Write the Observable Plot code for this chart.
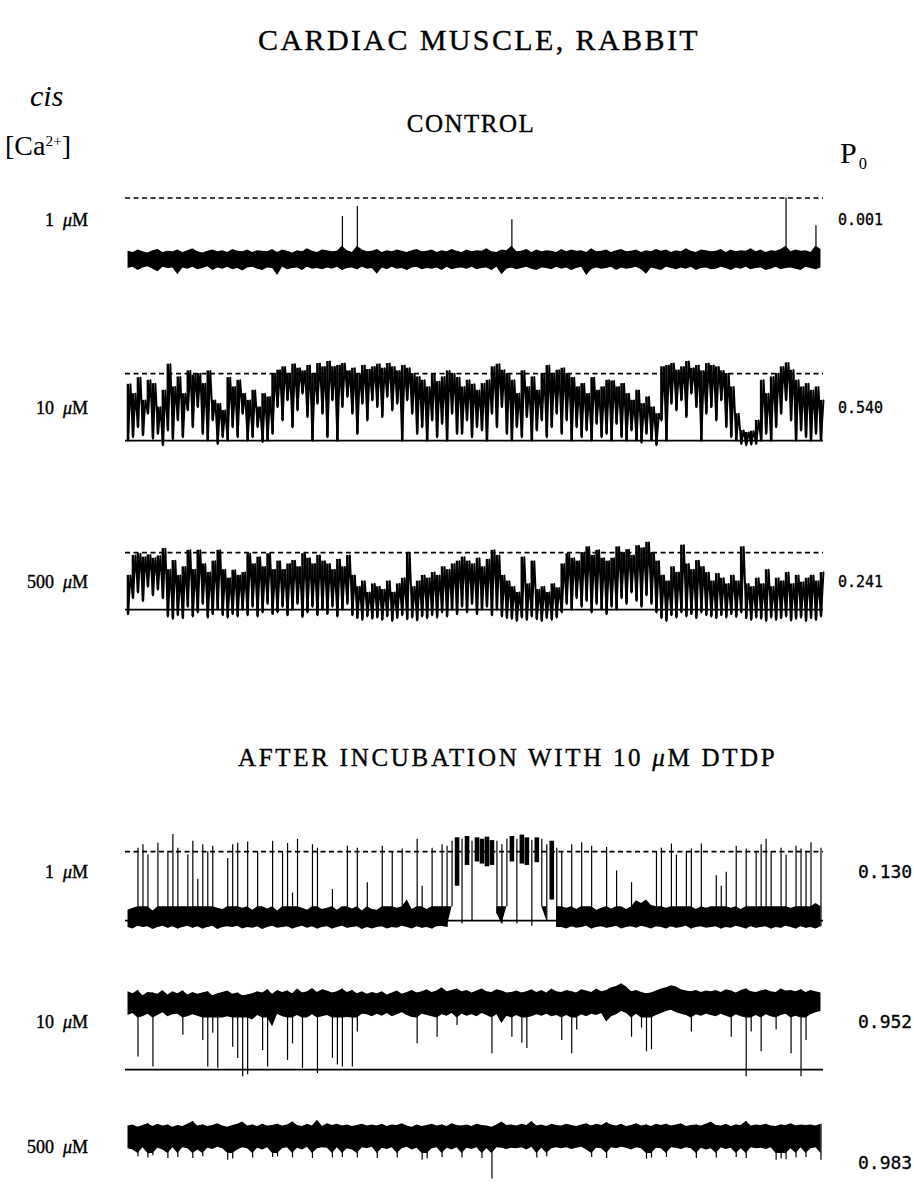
<!DOCTYPE html>
<html><head><meta charset="utf-8">
<script src="https://cdn.jsdelivr.net/npm/d3@7"></script>
<script src="https://cdn.jsdelivr.net/npm/@observablehq/plot@0.6"></script>
<style>
html,body{margin:0;padding:0;background:#fff;}
#page{position:relative;width:914px;height:1192px;overflow:hidden;background:#fff;color:#000;}
.t{position:absolute;white-space:nowrap;line-height:1;}
.hd{font-family:"Liberation Serif",serif;-webkit-text-stroke:0.35px #000;}
.ser{font-family:"Liberation Serif",serif;}
.lab{font-family:"Liberation Serif",serif;-webkit-text-stroke:0.4px #000;}
.num{font-family:"DejaVu Sans Mono",monospace;-webkit-text-stroke:0.3px #000;}
.plot{position:absolute;left:0;}
</style></head><body><div id="page"></div>
<script>
// ---- Data: current envelope per time bin (0 = closed level, 100 = open level) ----
// CONTROL, 1 uM
const t1Lo = [-14,-12,-17,-13,-11,-15,-19,-12,-14,-13,-24,-13,-15,-12,-16,-14,-11,-17,-13,-15,-12,-16,-14,-18,-13,-12,-15,-17,-13,-14,-25,-12,-16,-14,-13,-17,-12,-15,-14,-16,-13,-15,-12,-17,-14,-13,-16,-12,-15,-14,-23,-13,-16,-12,-15,-14,-17,-13,-12,-16,-14,-15,-13,-17,-12,-16,-14,-13,-15,-12,-16,-14,-13,-17,-12,-24,-15,-13,-16,-14,-12,-15,-17,-13,-14,-16,-12,-15,-13,-17,-14,-12,-25,-16,-13,-15,-14,-12,-17,-13,-15,-14,-12,-16,-23,-13,-15,-17,-12,-14,-16,-13,-15,-12,-17,-14,-13,-16,-15,-12,-14,-17,-13,-15,-12,-16,-14,-13,-17,-15,-12,-16,-14,-13,-15,-17,-12,-14,-16,-13];
const t1Hi = [14,12,16,13,11,15,17,12,14,13,16,12,15,18,13,11,14,16,13,15,12,17,14,13,16,12,15,14,13,17,12,16,14,11,15,13,18,14,12,16,15,13,14,70,15,12,86,16,13,14,17,12,15,13,16,14,12,15,17,13,14,16,12,15,13,17,14,12,16,13,15,14,18,13,12,16,15,65,13,14,17,12,16,13,15,14,12,17,13,16,14,15,12,18,13,14,16,12,15,17,13,14,16,12,15,13,17,14,16,12,15,13,18,14,12,16,15,13,14,17,12,16,13,15,14,18,13,16,12,15,14,17,100,13,16,14,15,12,55,17];
// CONTROL, 10 uM
const t2Lo = [0,5,20,8,40,3,10,-7,15,2,30,5,45,20,50,10,0,30,-5,5,0,20,5,40,0,5,20,-2,0,10,50,30,60,20,45,70,35,0,55,40,5,60,0,50,65,40,10,55,30,60,50,35,65,45,55,0,60,40,10,20,0,30,5,25,0,40,10,10,30,5,20,15,0,40,20,50,10,0,20,5,35,0,15,30,5,20,40,10,30,0,20,5,15,0,25,5,10,0,25,5,0,15,0,-3,10,0,-7,30,0,55,45,60,35,70,50,0,40,50,30,60,20,5,0,-5,-7,-6,-5,0,10,0,20,40,60,30,0,15,5,0,10,0];
const t2Hi = [84,70,94,60,90,85,50,75,114,80,95,70,104,98,100,85,104,60,55,45,94,80,90,70,60,75,50,70,65,100,105,110,100,114,108,104,112,100,115,110,118,110,112,115,104,108,100,112,106,110,114,108,115,110,104,112,108,100,95,90,80,99,88,95,104,100,94,80,90,84,75,85,90,110,114,105,100,90,70,104,80,95,75,100,112,100,105,108,100,94,80,85,70,94,75,80,90,89,80,85,70,60,75,55,65,50,40,110,112,115,105,110,118,108,112,104,115,112,110,104,100,80,40,15,12,14,30,90,70,95,100,110,116,105,90,80,85,75,80,60];
// CONTROL, 500 uM
const t3Lo = [-8,20,30,15,40,25,35,20,-12,-16,-10,-15,5,-12,-5,10,-14,-8,0,-10,-14,-8,-12,0,-10,5,-12,-5,10,-8,-5,5,-10,0,10,-13,-5,5,-10,0,-8,5,-12,0,10,-10,-15,-18,-12,-16,-14,-18,-12,-20,-15,-10,-17,-14,-19,-12,-15,-10,-14,-5,-12,0,-8,5,-5,10,-8,0,5,-10,0,-12,-15,-16,-20,-14,-18,-12,-17,-20,-15,-18,-14,-5,10,0,20,5,15,-5,10,0,-8,5,0,20,10,30,15,5,25,10,-5,-15,-20,-10,-14,-5,-12,-8,-15,-5,-10,-12,-15,-10,-14,-8,-13,-5,-15,-18,-14,-16,-20,-14,-18,-15,-12,-19,-16,-14,-20,-15,-18,-12];
const t3Hi = [60,95,98,92,96,90,94,107,70,86,60,75,104,70,104,80,65,85,104,70,55,69,60,65,98,80,92,75,98,70,85,70,80,86,75,98,90,80,95,85,80,70,88,75,95,60,40,50,30,45,40,35,50,30,45,55,100,40,50,60,55,65,60,75,70,80,85,92,85,80,90,75,88,104,95,60,50,40,30,92,45,85,35,40,30,45,38,80,98,90,85,100,110,95,104,90,85,90,110,100,105,95,112,108,118,100,85,60,50,75,65,113,80,70,86,75,65,50,63,55,45,60,50,110,45,40,55,45,70,40,55,50,65,45,60,48,55,60,50,65];
// DTDP, 1 uM
const t4Lo = [-10,-12,-8,-10,-9,-13,-10,-8,-11,-9,-12,-10,-8,-11,-9,-12,-10,-8,-13,-10,-9,-10,-8,-12,-10,-11,-9,-13,-10,-8,-11,-10,-9,-12,-10,-8,-11,-9,-12,-10,-9,-12,-10,-8,-11,-10,-9,-13,-10,-12,-10,-9,-12,-10,-11,-8,-10,-12,-9,-11,-10,-12,-9,-8,-10,20,50,-5,80,0,85,82,78,80,10,-5,20,85,-5,82,80,-8,84,20,0,30,-10,-10,-12,-9,-11,-10,-8,-12,-10,-9,-11,-10,-8,-12,-10,-9,-11,-8,-10,-12,-9,-10,-12,-9,-11,-10,-8,-12,-10,-9,-11,-10,-9,-12,-10,-11,-8,-10,-12,-9,-11,-10,-9,-12,-10,-11,-8,-10,-12,-9,-11,-10,-12,-9];
const t4Hi = [15,18,105,110,95,14,112,20,100,125,105,20,95,115,60,110,100,108,18,16,90,110,112,18,114,15,100,20,17,115,14,100,112,40,118,18,15,110,105,16,18,45,15,20,108,17,105,14,55,16,15,108,20,100,18,104,30,16,118,50,16,105,20,110,108,115,120,118,122,115,120,118,121,116,115,110,118,122,118,124,120,116,120,118,110,115,105,100,18,110,16,113,20,108,15,18,106,17,72,20,16,55,29,25,30,22,100,105,18,111,95,20,100,104,16,111,18,20,65,50,70,18,108,16,104,20,100,110,118,100,20,105,95,18,108,104,100,113,25,105];
// DTDP, 10 uM
const t5Lo = [82,85,19,80,84,4,82,86,80,83,84,52,80,83,81,44,4,55,2,78,80,34,17,-11,-8,75,82,29,4,65,84,80,14,39,82,2,78,83,-6,80,82,17,7,4,79,4,57,84,83,80,84,81,85,80,83,86,82,79,39,84,82,80,49,83,81,85,67,84,81,83,80,85,82,24,83,70,81,49,82,40,32,80,83,81,84,80,82,44,82,24,60,83,80,84,82,85,72,80,83,88,85,49,84,63,27,30,82,85,88,90,86,84,82,57,83,81,84,82,80,84,81,49,83,80,-11,57,82,27,83,80,60,82,84,24,81,-11,44,83,86,88];
const t5Hi = [118,115,120,112,117,116,114,120,113,118,115,119,113,117,114,116,118,112,115,117,119,114,116,112,113,115,118,116,121,114,120,117,119,115,122,116,118,123,117,121,119,116,118,122,117,120,115,118,114,117,115,118,113,116,119,114,117,120,116,118,121,117,119,124,118,120,122,118,120,116,119,122,118,117,121,119,116,117,119,116,118,121,117,120,116,122,118,117,120,118,116,121,119,117,122,118,120,124,126,130,125,118,120,117,115,116,119,122,124,127,125,121,119,118,120,117,119,118,120,117,121,119,116,120,122,118,117,119,121,118,117,122,119,120,118,121,117,120,118,116];
// DTDP, 500 uM
const t6Lo = [80,78,66,82,64,68,81,78,63,82,65,82,80,63,78,66,81,79,83,80,60,62,78,82,80,64,81,78,82,65,66,80,82,64,81,78,83,63,80,82,81,64,82,65,80,78,64,82,80,83,63,81,79,82,64,80,83,78,81,60,62,80,82,65,81,78,82,64,81,79,82,63,80,27,82,81,79,81,80,82,78,83,64,81,66,80,82,80,82,79,81,83,78,65,81,80,63,82,80,83,81,78,82,80,62,64,81,80,65,82,81,79,82,80,63,81,78,80,64,82,79,81,65,80,63,82,80,81,79,82,60,62,61,80,64,82,65,80,82,60];
const t6Hi = [120,122,118,121,124,119,123,120,122,118,121,119,123,128,120,122,119,121,124,120,118,121,123,127,120,122,119,123,120,121,123,120,122,127,121,119,123,120,130,119,124,121,123,120,122,119,121,123,120,122,120,123,119,122,121,124,120,118,122,119,121,123,120,122,119,124,121,120,122,119,123,121,120,118,122,127,121,122,120,123,121,128,120,122,119,123,121,120,123,121,119,122,124,120,123,121,126,122,120,123,119,121,124,120,122,119,123,121,123,120,122,124,119,121,122,120,123,127,121,120,123,119,122,121,128,120,122,121,123,120,119,122,121,124,120,122,121,122,120,123];

const concLabels = ["1 \u03bcM","10 \u03bcM","500 \u03bcM","1 \u03bcM","10 \u03bcM","500 \u03bcM"];
const poLabels = ["0.001","0.540","0.241","0.130","0.952","0.983"];

// ---- Layout & style (page pixel positions of the open / closed levels) ----
const traces = [
  {lo:t1Lo, hi:t1Hi, yOpen:197, yClosed:259, dmin:-35, dmax:112, closed:false, dashed:true, ly:220, px:838, ps:15, mode:"band", thr:50, band:[-26,22]},
  {lo:t2Lo, hi:t2Hi, yOpen:373, yClosed:440, dmin:-25, dmax:130, closed:true, dashed:true, ly:408, px:838, ps:15, mode:"flicker"},
  {lo:t3Lo, hi:t3Hi, yOpen:552, yClosed:609, dmin:-35, dmax:130, closed:true, dashed:true, ly:582, px:838, ps:15, mode:"flicker"},
  {lo:t4Lo, hi:t4Hi, yOpen:851, yClosed:920, dmin:-25, dmax:135, closed:true, dashed:true, ly:872, px:858, ps:18, mode:"band", thr:50, band:[-14,20]},
  {lo:t5Lo, hi:t5Hi, yOpen:1003, yClosed:1069, dmin:-25, dmax:135, closed:true, dashed:false, ly:1022, px:858, ps:18, mode:"band", thr:50, band:[78,125]},
  {lo:t6Lo, hi:t6Hi, yOpen:1137, yClosed:1194, dmin:20, dmax:135, closed:false, dashed:false, ly:1147, px:858, ps:18, pyOff:16, mode:"band", thr:50, band:[72,130]}
];

const page = document.getElementById("page");

function drawTrace(tr){
  const n = Math.min(tr.lo.length, tr.hi.length);
  const idx = d3.range(n);
  const unit = (tr.yClosed - tr.yOpen)/100;
  const h = (tr.dmax - tr.dmin)*unit;
  const marks = [];
  if (tr.dashed) marks.push(Plot.ruleY([100], {stroke:"#000", strokeWidth:1.6, strokeDasharray:"5,3.5"}));
  if (tr.closed) marks.push(Plot.ruleY([0], {stroke:"#000", strokeWidth:1.8}));
  if (tr.mode === "band") {
    const spiky = i => tr.hi[i] - tr.lo[i] > tr.thr;
    const inBand = i => tr.hi[i] >= tr.band[0] && tr.lo[i] <= tr.band[1];
    const bLo = i => !inBand(i) ? NaN : spiky(i) ? Math.max(tr.lo[i], tr.band[0]) : tr.lo[i];
    const bHi = i => !inBand(i) ? NaN : spiky(i) ? Math.min(tr.hi[i], tr.band[1]) : tr.hi[i];
    // noise band: envelope filled between the low and high edge of each bin
    marks.push(Plot.areaY(idx, {x:i=>i, y1:bLo, y2:bHi, fill:"#000", curve:"linear"}));
    // sustained dwell at the other level
    marks.push(Plot.ruleX(idx.filter(i => !inBand(i)), {x:i=>i, y1:i=>tr.lo[i], y2:i=>tr.hi[i], stroke:"#000", strokeWidth:4.6}));
    // brief openings / closings as thin vertical strokes
    marks.push(Plot.ruleX(idx.filter(spiky), {x:i=>i, y1:i=>tr.lo[i], y2:i=>tr.hi[i], stroke:"#000", strokeWidth:1.2}));
  } else {
    marks.push(Plot.ruleX(idx, {x:i=>i, y1:i=>tr.lo[i], y2:i=>tr.hi[i], stroke:"#000", strokeWidth:2.6}));
    const zig = idx.flatMap(i => [{x:i, y:tr.lo[i]}, {x:i+0.5, y:tr.hi[i]}]);
    marks.push(Plot.line(zig, {x:"x", y:"y", stroke:"#000", strokeWidth:1.9}));
  }
  const svg = Plot.plot({
    width:914, height:h,
    marginLeft:125, marginRight:91, marginTop:0, marginBottom:0,
    style:{background:"transparent", overflow:"visible"},
    x:{domain:[-0.5, n-0.5], axis:null},
    y:{domain:[tr.dmin, tr.dmax], axis:null},
    marks
  });
  svg.classList.add("plot");
  svg.style.top = (tr.yOpen - (tr.dmax-100)*unit) + "px";
  page.appendChild(svg);
}
traces.forEach(drawTrace);

function label(html, x, y, cls, size, anchor, extra){
  const d = document.createElement("div");
  d.className = "t " + cls;
  d.innerHTML = html;
  d.style.fontSize = size + "px";
  d.style.top = y + "px";
  if (extra) Object.assign(d.style, extra);
  if (anchor === "end") { d.style.right = (914 - x) + "px"; d.style.transform = "translateY(-50%)"; }
  else if (anchor === "middle") { d.style.left = x + "px"; d.style.transform = "translate(-50%,-50%)"; }
  else { d.style.left = x + "px"; d.style.transform = "translateY(-50%)"; }
  page.appendChild(d);
}

label("CARDIAC MUSCLE, RABBIT", 258, 40, "hd", 30, "start", {letterSpacing:"2.4px"});
label("<i>cis</i>", 30, 96, "ser", 30, "start");
label("[Ca<sup style='font-size:55%;vertical-align:0.6em'>2+</sup>]", 5, 146, "ser", 28, "start");
label("CONTROL", 471, 123, "hd", 25, "middle", {letterSpacing:"1.5px"});
label("P<span style='font-size:55%;position:relative;top:0.35em;margin-left:2px'>0</span>", 840, 153, "ser", 30, "start");
label("AFTER INCUBATION WITH 10 <i>\u03bc</i>M DTDP", 238, 757, "hd", 25, "start", {letterSpacing:"2.7px"});

traces.forEach((tr, k) => {
  const parts = concLabels[k].split(" ");
  label(parts[0] + "&nbsp;&nbsp;<i>" + parts[1][0] + "</i>" + parts[1].slice(1), 88, tr.ly, "lab", 18, "end");
  label(poLabels[k], tr.px, tr.ly + (tr.pyOff||0), "num", tr.ps, "start");
});
</script>
</body></html>
